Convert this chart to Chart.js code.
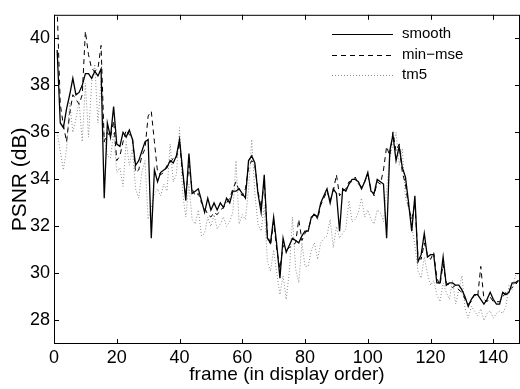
<!DOCTYPE html>
<html>
<head>
<meta charset="utf-8">
<script src="https://cdn.jsdelivr.net/npm/chart.js@4.4.1/dist/chart.umd.min.js"></script>
<style>
  html, body { margin: 0; padding: 0; background: #fff; }
  #wrap { width: 520px; height: 389px; }
</style>
</head>
<body>
<div id="wrap"><canvas id="psnr" width="520" height="389"></canvas></div>
<script>
// frame numbers (display order)
var frames = [];
for (var f = 1; f <= 148; f++) frames.push(f);

// PSNR per frame
var smooth = [
  39.5, 36.4, 36.2, 37.0, 37.6, 38.3, 37.6, 37.7, 38.0, 38.5,
  38.5, 38.3, 38.6, 38.4, 38.7, 33.2, 36.4, 35.8, 37.1, 35.5,
  35.4, 36.0, 35.8, 36.1, 35.7, 34.6, 34.8, 35.2, 35.6, 35.7,
  31.5, 34.4, 33.9, 34.3, 34.4, 34.5, 34.8, 34.7, 35.0, 35.7,
  34.4, 33.1, 35.1, 33.4, 33.5, 33.6, 33.1, 32.6, 33.2, 32.7,
  33.0, 32.7, 33.0, 32.8, 33.2, 33.0, 33.5, 33.5, 33.6, 33.4,
  33.2, 34.8, 35.0, 34.7, 33.4, 32.6, 34.2, 31.5, 31.3, 32.4,
  31.2, 29.8, 31.5, 30.9, 31.2, 31.5, 31.4, 31.3, 31.6, 31.8,
  31.8, 32.4, 32.5, 32.4, 33.0, 33.3, 33.6, 33.0, 33.6, 33.4,
  31.8, 33.6, 33.5, 33.8, 34.0, 34.0, 33.9, 33.6, 33.9, 34.3,
  33.5, 33.4, 34.0, 33.9, 33.8, 31.5, 35.2, 35.9, 34.8, 35.4,
  34.5, 34.1, 33.0, 31.8, 33.3, 30.5, 30.8, 31.7, 30.7, 30.8,
  30.8, 29.6, 29.6, 30.7, 29.5, 29.6, 29.6, 29.5, 29.5, 29.3,
  29.0, 28.6, 28.9, 29.1, 29.1, 28.9, 28.7, 28.9, 29.2, 28.9,
  28.7, 28.7, 29.2, 29.1, 29.2, 29.6, 29.6, 29.7
];
var minMse = [
  41.3, 37.2, 36.3, 35.6, 36.8, 37.6, 37.4, 37.2, 37.6, 40.3,
  39.3, 38.7, 38.6, 38.7, 39.7, 35.6, 36.0, 35.8, 36.5, 34.8,
  35.0, 35.6, 36.1, 35.9, 35.8, 34.3, 34.4, 35.0, 35.3, 36.7,
  36.9, 35.6, 34.3, 34.2, 34.3, 34.6, 34.7, 34.9, 34.9, 35.6,
  34.2, 33.3, 34.6, 33.6, 33.3, 33.4, 33.0, 32.8, 32.5, 32.4,
  32.6, 32.5, 32.7, 32.8, 33.0, 33.2, 33.6, 33.9, 33.5, 33.3,
  33.6, 34.5, 34.8, 34.6, 33.5, 32.8, 33.9, 31.7, 31.2, 32.2,
  31.0, 30.2, 31.2, 31.0, 31.1, 31.2, 31.3, 32.3, 31.4, 31.7,
  31.9, 32.3, 32.6, 32.3, 32.9, 33.2, 33.5, 33.1, 33.5, 34.2,
  33.3, 33.5, 33.6, 33.9, 33.9, 34.1, 33.8, 33.7, 33.9, 34.2,
  33.6, 33.3, 33.9, 33.8, 34.4, 35.4, 35.0, 36.0, 35.2, 35.5,
  34.3, 33.8, 32.8, 32.3, 33.0, 30.7, 30.6, 31.3, 30.8, 30.6,
  30.9, 29.8, 29.5, 30.4, 29.6, 29.5, 29.4, 29.5, 29.3, 29.2,
  28.9, 28.7, 28.8, 29.1, 29.0, 30.3, 28.9, 28.8, 29.0, 28.8,
  28.8, 28.8, 29.0, 29.2, 29.3, 29.4, 29.5, 29.7
];
var tm5 = [
  36.0, 35.2, 34.4, 35.3, 37.3, 36.0, 36.6, 37.3, 35.6, 38.1,
  35.8, 38.1, 38.9, 36.4, 38.2, 35.9, 35.0, 34.9, 36.0, 34.3,
  34.5, 33.7, 35.6, 34.6, 35.3, 33.6, 33.2, 34.3, 34.8, 32.3,
  32.8, 33.4, 33.6, 33.3, 33.8, 33.5, 35.5, 33.9, 34.2, 36.2,
  33.4, 32.4, 33.8, 32.3, 32.1, 32.7, 31.6, 31.7, 32.4, 32.0,
  32.5, 31.9, 32.1, 32.4, 32.0, 32.2, 32.6, 34.8, 32.1, 32.5,
  32.3, 33.6, 35.7, 33.4, 32.1, 31.8, 32.9, 30.5, 30.1, 31.0,
  30.0, 29.1, 29.9, 28.9, 30.1, 32.4, 30.2, 29.6, 31.3, 30.3,
  30.3, 31.0, 31.3, 30.6, 31.3, 31.5, 31.6, 32.3, 31.1, 32.0,
  31.5, 31.7, 31.9, 33.1, 32.2, 32.3, 32.6, 33.2, 32.4, 32.7,
  32.3, 32.1, 32.7, 32.6, 32.2, 33.6, 34.9, 35.5, 36.0, 34.6,
  35.3, 33.2, 32.8, 32.0, 31.2, 30.1, 29.8, 30.7, 30.0, 29.5,
  29.7, 29.1, 28.8, 29.6, 29.2, 28.9, 29.7, 28.7, 29.3, 29.9,
  28.5, 28.1, 28.6, 28.4, 28.2, 28.5, 28.0, 28.3, 28.4, 28.1,
  28.3, 28.4, 28.3, 28.6, 29.5, 29.3, 29.9, 30.0
];

var xTicks = [0, 20, 40, 60, 80, 100, 120, 140];
var yTicks = [28, 30, 32, 34, 36, 38, 40];

var FONT = '"Liberation Sans", Arial, Helvetica, sans-serif';

function points(values) {
  return frames.map(function (fr, i) { return { x: fr, y: values[i] }; });
}

// matlab-style box with inward ticks, y label and legend
var matlabAxes = {
  id: 'matlabAxes',
  afterDraw: function (chart) {
    var ctx = chart.ctx;
    var a = chart.chartArea;
    var xs = chart.scales.x, ys = chart.scales.y;
    var tl = 5;
    ctx.save();
    ctx.strokeStyle = '#000';
    ctx.lineWidth = 1;
    ctx.strokeRect(a.left + 0.5, a.top + 0.5, a.right - a.left - 1, a.bottom - a.top - 1);
    ctx.beginPath();
    xTicks.forEach(function (v) {
      var px = Math.round(xs.getPixelForValue(v)) + 0.5;
      ctx.moveTo(px, a.bottom); ctx.lineTo(px, a.bottom - tl);
      ctx.moveTo(px, a.top); ctx.lineTo(px, a.top + tl);
    });
    yTicks.forEach(function (v) {
      var py = Math.round(ys.getPixelForValue(v)) + 0.5;
      ctx.moveTo(a.left, py); ctx.lineTo(a.left + tl, py);
      ctx.moveTo(a.right, py); ctx.lineTo(a.right - tl, py);
    });
    ctx.stroke();

    // y axis label, centred on the axis
    ctx.fillStyle = '#000';
    ctx.font = '21px ' + FONT;
    ctx.textAlign = 'center';
    ctx.textBaseline = 'middle';
    ctx.translate(20.5, (a.top + a.bottom) / 2);
    ctx.rotate(-Math.PI / 2);
    ctx.fillText('PSNR (dB)', 0, 0);
    ctx.setTransform(1, 0, 0, 1, 0, 0);

    // legend
    var rows = [34, 55, 75];
    ctx.font = '15px ' + FONT;
    ctx.textAlign = 'left';
    chart.data.datasets.forEach(function (ds, i) {
      var y = rows[i] + 0.5;
      ctx.save();
      ctx.strokeStyle = ds.borderColor;
      ctx.lineWidth = 1;
      ctx.setLineDash(ds.borderDash || []);
      ctx.beginPath();
      ctx.moveTo(332, y); ctx.lineTo(393, y);
      ctx.stroke();
      ctx.restore();
      ctx.fillText(ds.label, 402, rows[i]);
    });
    ctx.restore();
  }
};

new Chart(document.getElementById('psnr'), {
  type: 'line',
  data: {
    datasets: [{
      label: 'smooth',
      data: points(smooth),
      borderColor: '#000',
      borderWidth: 1.3
    }, {
      label: 'min\u2212mse',
      data: points(minMse),
      borderColor: '#000',
      borderWidth: 1,
      borderDash: [5, 4]
    }, {
      label: 'tm5',
      data: points(tm5),
      borderColor: '#8c8c8c',
      borderWidth: 1,
      borderDash: [1, 2]
    }]
  },
  options: {
    responsive: false,
    animation: false,
    devicePixelRatio: 1,
    layout: { padding: { top: 7, right: 0, left: 0, bottom: 0 } },
    elements: { point: { radius: 0 }, line: { tension: 0 } },
    plugins: {
      legend: { display: false },
      tooltip: { enabled: false }
    },
    scales: {
      x: {
        type: 'linear',
        min: 0,
        max: 148.5,
        afterBuildTicks: function (s) { s.ticks = xTicks.map(function (v) { return { value: v }; }); },
        afterFit: function (s) { s.height = 45; },
        grid: { display: false, drawTicks: false },
        border: { display: false },
        ticks: { color: '#000', padding: 3, font: { family: FONT, size: 18 }, maxRotation: 0 },
        title: {
          display: true,
          text: 'frame (in display order)',
          color: '#000',
          padding: { top: 0, bottom: 3 },
          font: { family: FONT, size: 19 }
        }
      },
      y: {
        min: 27,
        max: 41,
        afterBuildTicks: function (s) { s.ticks = yTicks.map(function (v) { return { value: v }; }); },
        afterFit: function (s) { s.width = 54; },
        grid: { display: false, drawTicks: false },
        border: { display: false },
        ticks: { color: '#000', padding: 4, font: { family: FONT, size: 18 } }
      }
    }
  },
  plugins: [matlabAxes]
});
</script>
</body>
</html>
